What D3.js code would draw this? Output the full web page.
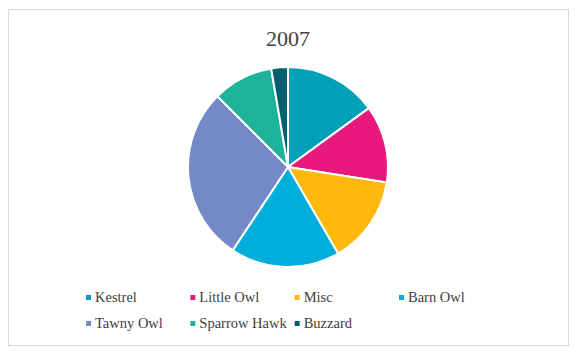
<!DOCTYPE html>
<html>
<head>
<meta charset="utf-8">
<script src="https://cdn.jsdelivr.net/npm/d3@7"></script>
<style>
  body { margin: 0; background: #fff; }
  text { font-family: "Liberation Serif", "DejaVu Serif", serif; fill: #404040; }
</style>
</head>
<body>
<div id="chart"></div>
<script>
// data (share of the pie, clockwise from 12 o'clock)
const categories = ["Kestrel", "Little Owl", "Misc", "Barn Owl", "Tawny Owl", "Sparrow Hawk", "Buzzard"];
const values = [15, 12.5, 14.2, 17.7, 28.2, 9.8, 2.7];
const colors = ["#00A0B8", "#E8187D", "#FFB80C", "#00AEDB", "#7489C7", "#1EB39B", "#005F6E"];

const width = 576, height = 353;

const svg = d3.select("#chart")
  .append("svg")
  .attr("width", width)
  .attr("height", height);

// chart border
svg.append("rect")
  .attr("x", 8.5).attr("y", 9.5)
  .attr("width", 560).attr("height", 336)
  .attr("fill", "#fff")
  .attr("stroke", "#d9d9d9");

// title
svg.append("text")
  .attr("x", 288)
  .attr("y", 46)
  .attr("text-anchor", "middle")
  .attr("font-family", "Liberation Serif")
  .attr("font-size", "22px")
  .text("2007");

const data = categories.map((c, i) => ({name: c, value: values[i]}));

const pie = d3.pie().value(d => d.value).sort(null);
const arc = d3.arc().innerRadius(0).outerRadius(100);
const color = d3.scaleOrdinal().domain(categories).range(colors);

const g = svg.append("g").attr("transform", "translate(288,167)");

g.selectAll("path")
  .data(pie(data))
  .join("path")
  .attr("d", arc)
  .attr("fill", d => color(d.data.name))
  .attr("stroke", "#fff")
  .attr("stroke-width", 2);

// legend: 4 columns, 2 rows
const legend = svg.append("g");
const colX = d3.scalePoint().domain([0, 1, 2, 3]).range([86, 399]);
const rowY = d3.scalePoint().domain([0, 1]).range([298, 324]);

const items = legend.selectAll("g")
  .data(categories)
  .join("g")
  .attr("transform", (d, i) => `translate(${colX(i % 4)},${rowY(Math.floor(i / 4))})`);

items.append("rect")
  .attr("x", 0).attr("y", -3)
  .attr("width", 5).attr("height", 5)
  .attr("fill", d => color(d));

items.append("text")
  .attr("x", 9)
  .attr("y", 4)
  .attr("font-family", "Liberation Serif")
  .attr("font-size", "14.5px")
  .text(d => d);
</script>
</body>
</html>
